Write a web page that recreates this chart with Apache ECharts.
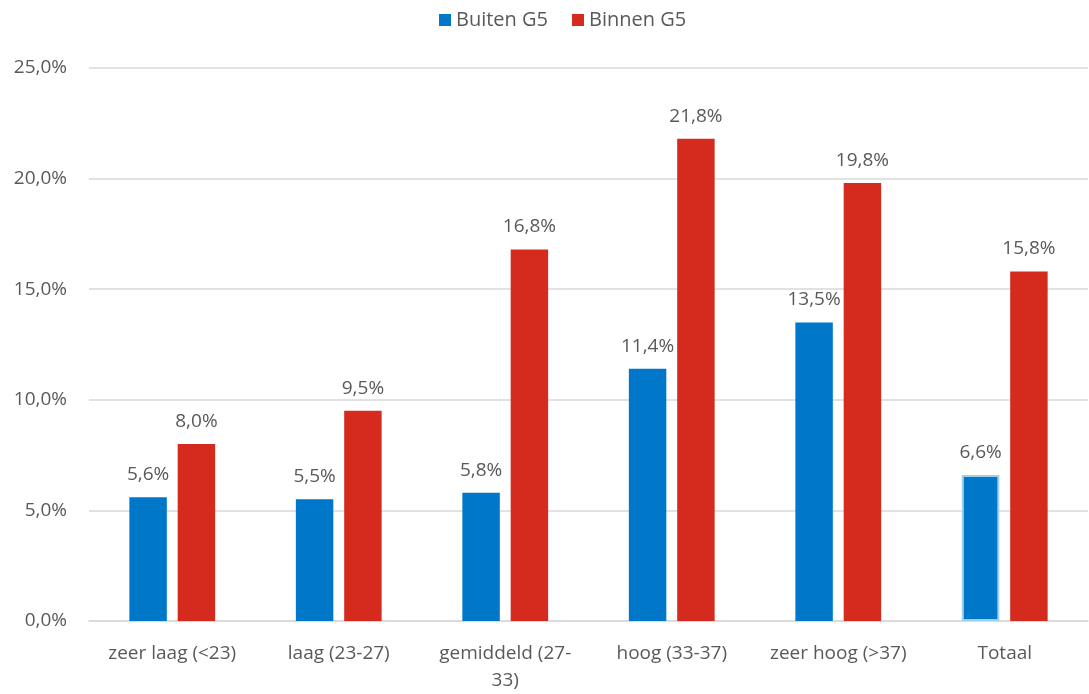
<!DOCTYPE html>
<html>
<head>
<meta charset="utf-8">
<script src="https://cdn.jsdelivr.net/npm/echarts@6/dist/echarts.min.js"></script>
<style>
html,body{margin:0;padding:0;background:#fff;overflow:hidden;}
#c{width:1089px;height:694px;}
</style>
</head>
<body>
<div id="c"></div>
<script>
const categories = ['zeer laag (<23)', 'laag (23-27)', 'gemiddeld (27-\n33)', 'hoog (33-37)', 'zeer hoog (>37)', 'Totaal'];
const seriesNames = ['Buiten G5', 'Binnen G5'];
const buitenG5 = [5.6, 5.5, 5.8, 11.4, 13.5, 6.6];
const binnenG5 = [8.0, 9.5, 16.8, 21.8, 19.8, 15.8];
const yTicks = [0, 5, 10, 15, 20, 25];

const FONT = 'Open Sans';
const TXT = '#595959';
const fmt = v => v.toFixed(1).replace('.', ',') + '%';

const chart = echarts.init(document.getElementById('c'));
const blueData = buitenG5.map((v, i) => i === categories.length - 1
  ? { value: v, itemStyle: { borderColor: '#9fd0ea', borderWidth: 2 } }
  : v);

chart.setOption({
  animation: false,
  textStyle: { fontFamily: FONT },
  legend: {
    top: 5, left: 434,
    itemWidth: 12, itemHeight: 12, itemGap: 24,
    icon: 'rect',
    textStyle: { fontFamily: FONT, fontSize: 20, color: TXT },
    data: seriesNames
  },
  grid: { left: 89, right: 1, top: 68, bottom: 67, containLabel: false },
  xAxis: {
    type: 'category',
    data: categories,
    axisLine: { lineStyle: { color: '#d9d9d9', width: 1.5 } },
    axisTick: { show: false },
    axisLabel: { color: TXT, fontFamily: FONT, fontSize: 19, margin: 19, lineHeight: 27, interval: 0 }
  },
  yAxis: {
    type: 'value',
    min: yTicks[0], max: yTicks[yTicks.length - 1], interval: 5,
    axisLine: { show: false },
    axisTick: { show: false },
    splitLine: { lineStyle: { color: '#d9d9d9', width: 1.5 } },
    axisLabel: { color: TXT, fontFamily: FONT, fontSize: 19, margin: 22, formatter: v => v.toFixed(1).replace('.', ',') + '%' }
  },
  series: [
    {
      name: seriesNames[0], type: 'bar', data: blueData,
      barWidth: '22.5%', barGap: '29%',
      itemStyle: { color: '#0077c8' },
      label: { show: true, position: 'top', distance: 13, color: TXT, fontFamily: FONT, fontSize: 19, formatter: p => fmt(p.value) }
    },
    {
      name: seriesNames[1], type: 'bar', data: binnenG5,
      barWidth: '22.5%',
      itemStyle: { color: '#d52b1e' },
      label: { show: true, position: 'top', distance: 13, color: TXT, fontFamily: FONT, fontSize: 19, formatter: p => fmt(p.value) }
    }
  ]
});
</script>
</body>
</html>
